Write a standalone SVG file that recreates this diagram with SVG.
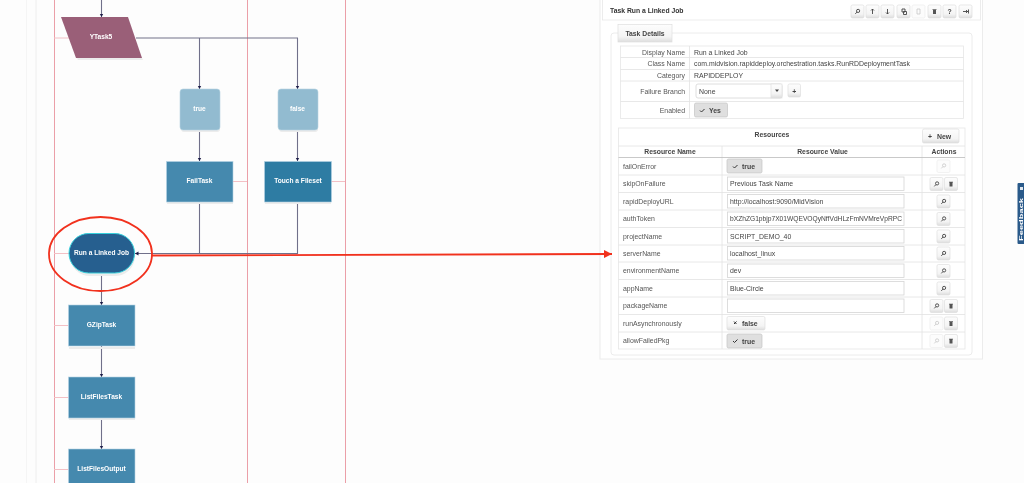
<svg xmlns="http://www.w3.org/2000/svg" width="1024" height="483" viewBox="0 0 1024 483">
<style>
text{font-family:"Liberation Sans",Arial,sans-serif}
.n{font-size:6.600px;font-weight:700;fill:#fff;text-anchor:middle}
.l{font-size:6.900px;fill:#555}
.r{font-size:6.900px;fill:#555;text-anchor:end}
.v{font-size:6.900px;fill:#444}
.b{font-size:6.900px;font-weight:700;fill:#444}
.h{font-size:6.800px;font-weight:700;fill:#444;text-anchor:middle}
.lane{stroke:#eb9fa8;stroke-width:1;fill:none}
.tick{stroke:#f3c0c5;stroke-width:1;fill:none}
.c{stroke:#70708a;stroke-width:1.100;fill:none;marker-end:url(#a)}
.c2{stroke:#70708a;stroke-width:1.100;fill:none}
.task{fill:#4589ae;stroke:#b5d3e4;stroke-width:.6}
.dec{fill:#92bbd0;stroke:#b9d5e2;stroke-width:.6}
.sh{fill:#ececec}
.btn{fill:url(#bg);stroke:#dedede;stroke-width:.7}
.dim{fill:#fcfcfc;stroke:#ececec;stroke-width:.7}
.on{fill:#dfdfdf;stroke:#c4c4c4;stroke-width:.7}
.in{fill:#fff;stroke:#d5d5d5;stroke-width:.8}
.ln{stroke:#e2e2e2;stroke-width:.8;fill:none}
.box{fill:#fff;stroke:#e6e6e6;stroke-width:.8}
.ic{fill:none;stroke:#444;stroke-width:.9}
.icd{fill:none;stroke:#c8c8c8;stroke-width:.8}
.red{fill:none;stroke:#f1301f}
</style>
<defs>
<linearGradient id="bg" x1="0" y1="0" x2="0" y2="1"><stop offset="0" stop-color="#fdfdfd"/><stop offset=".7" stop-color="#f4f4f4"/><stop offset="1" stop-color="#dddddd"/></linearGradient>
<marker id="a" markerUnits="userSpaceOnUse" markerWidth="5" markerHeight="5" refX="3.500" refY="2" orient="auto"><path d="M0 0L3.500 2L0 4z" fill="#1d1d4a"/></marker>
<marker id="ra" markerUnits="userSpaceOnUse" markerWidth="9" markerHeight="8" refX="8" refY="4" orient="auto"><path d="M0 0L8 4L0 8z" fill="#f1301f"/></marker>
<path id="mag" d="M-1 -.6a1.600 1.600 0 1 0 3.200 0a1.600 1.600 0 1 0 -3.200 0M-.6 .6L-2.200 2.400"/>
<path id="trash" d="M-1.500 -1.500h3v4h-3zM-2 -2.300h4v.7h-4z" fill="#555"/>
<filter id="soft" x="0" y="0" width="100%" height="100%"><feGaussianBlur stdDeviation=".3"/></filter>
</defs>
<rect width="1024" height="483" fill="#fdfdfd"/>
<g filter="url(#soft)">
<g id="lanes">
<path d="M26 0V483M36 0V483" stroke="#eeeeee" stroke-width="1" fill="none"/>
<path class="lane" d="M54.500 0V483M247.500 0V483M345.500 0V483"/>
<path class="tick" d="M54 38H70M233 181.500H247M331 181.500H345M54 253.500H69M54 325.500H68M54 397.500H68M54 469.500H68"/>
</g>

<g id="connectors">
<path class="c" d="M101.500 0V17"/>
<path class="c2" d="M136 38H298"/>
<path class="c" d="M199.500 38V89"/>
<path class="c" d="M297.500 38V89"/>
<path class="c" d="M199.500 130V161"/>
<path class="c" d="M297.500 130V161"/>
<path class="c2" d="M199.500 202V253.500"/>
<path class="c" d="M297.500 202V253.500H135"/>
<path class="c" d="M101.500 273V305"/>
<path class="c" d="M101.500 346V377"/>
<path class="c" d="M101.500 418V449"/>
</g>

<g id="yTask5"><path class="sh" d="M77 58H142L143 60H78z"/><path d="M61 17H128L142 58H76z" fill="#9a5f78"/><text class="n" x="101" y="39">YTask5</text></g>
<g id="true"><rect class="sh" x="181" y="91" width="39" height="41" rx="3"/><rect class="dec" x="180" y="89" width="40" height="41" rx="3"/><text class="n" x="199.500" y="111">true</text></g>
<g id="false"><rect class="sh" x="279" y="91" width="39" height="41" rx="3"/><rect class="dec" x="278" y="89" width="40" height="41" rx="3"/><text class="n" x="297.500" y="111">false</text></g>
<g id="failTask"><rect class="sh" x="167" y="163" width="66" height="41"/><rect class="task" x="166.500" y="161.500" width="66.500" height="40.500"/><text class="n" x="199.500" y="183">FailTask</text></g>
<g id="touchFileset"><rect class="sh" x="265" y="163" width="66" height="41"/><rect x="264.500" y="161.500" width="67" height="40.500" fill="#2d7ba3" stroke="#b5d3e4" stroke-width=".6"/><text class="n" x="298" y="183">Touch a Fileset</text></g>
<g id="runLinkedJob"><rect class="sh" x="70" y="236" width="65" height="40" rx="20"/><rect x="69" y="233.500" width="65.500" height="39.500" rx="19.700" fill="#265f8f" stroke="#35d0dc" stroke-width="1"/><text class="n" x="101.500" y="255">Run a Linked Job</text></g>
<g id="gzipTask"><rect class="sh" x="69" y="347" width="66" height="2"/><rect class="task" x="68.500" y="305" width="66.500" height="41"/><text class="n" x="101.500" y="327">GZipTask</text></g>
<g id="listFilesTask"><rect class="sh" x="69" y="418" width="66" height="2"/><rect class="task" x="68.500" y="377" width="66.500" height="41"/><text class="n" x="101.500" y="399">ListFilesTask</text></g>
<g id="listFilesOutput"><rect class="task" x="68.500" y="449" width="66.500" height="36"/><text class="n" x="101.500" y="471">ListFilesOutput</text></g>

<g id="panel">
<rect x="600" y="-2" width="382.500" height="361" fill="#fff" stroke="#ececec"/>
<rect x="602.500" y="-2" width="378" height="22" fill="#fff" stroke="#e8e8e8" stroke-width=".8"/>
<text x="610" y="12.500" style="font-size:6.800px;font-weight:700;fill:#333">Task Run a Linked Job</text>
<g id="toolbar">
<rect class="btn" x="851" y="5" width="13" height="13" rx="1.500"/><rect class="btn" x="866" y="5" width="13" height="13" rx="1.500"/><rect class="btn" x="881" y="5" width="13" height="13" rx="1.500"/><rect class="btn" x="897" y="5" width="13" height="13" rx="1.500"/><rect class="dim" x="912" y="5" width="13" height="13" rx="1.500"/><rect class="btn" x="928" y="5" width="13" height="13" rx="1.500"/><rect class="btn" x="943" y="5" width="13" height="13" rx="1.500"/><rect class="btn" x="959" y="5" width="13" height="13" rx="1.500"/>
<use href="#mag" class="ic" x="857.500" y="11.500"/>
<path class="ic" d="M872.500 14V9M871 10.500l1.500-1.500 1.500 1.500M887.500 9V14M886 12.500l1.500 1.500 1.500-1.500"/>
<path class="ic" d="M902 9h3v3h-3zM903.500 11.500h3v3h-3z"/>
<path class="icd" d="M917 9h3v5h-3z"/>
<use href="#trash" x="934.500" y="11.500"/>
<text class="b" x="949.500" y="14" text-anchor="middle">?</text>
<path class="ic" d="M963 11.500h5M966 10l1.500 1.500-1.500 1.500M968.500 9.500v4"/>
</g>
<rect x="611" y="33" width="361" height="322" rx="3" fill="#fff" stroke="#ececec"/>
<rect class="btn" x="618" y="24.500" width="54" height="17.500"/>
<text class="h" x="645" y="35.500">Task Details</text>

<g id="details">
<rect class="box" x="620.500" y="46" width="343" height="72.500"/>
<path class="ln" d="M620.500 57.500H963.500M620.500 69.500H963.500M620.500 81H963.500M620.500 101.500H963.500M689.500 46V118.500"/>
<text class="r" x="685" y="54.500">Display Name</text><text class="v" x="694" y="54.500">Run a Linked Job</text>
<text class="r" x="685" y="66">Class Name</text><text class="v" x="694" y="66">com.midvision.rapiddeploy.orchestration.tasks.RunRDDeploymentTask</text>
<text class="r" x="685" y="78">Category</text><text class="v" x="694" y="78">RAPIDDEPLOY</text>
<text class="r" x="685" y="94">Failure Branch</text>
<rect class="in" x="696" y="84" width="86" height="14" rx="2"/><rect class="btn" x="771" y="84" width="11" height="14"/><text class="v" x="699" y="93.700">None</text><path d="M775 89.500h4l-2 2.500z" fill="#444"/>
<rect class="btn" x="788" y="84" width="12.500" height="13" rx="1.500"/><text class="b" x="794.300" y="93.500" text-anchor="middle">+</text>
<text class="r" x="685" y="112.500">Enabled</text>
<rect class="on" x="694.500" y="103" width="33" height="14" rx="1.500"/><text class="b" x="709" y="112.500">Yes</text><path d="M700 110.500l1.500 1.500 3-3" stroke="#333" fill="none"/>
</g>

<g id="resources">
<rect class="box" x="618.500" y="128" width="346.500" height="221"/>
<path class="ln" d="M618.500 146H965M618.500 175H965M618.500 192.500H965M618.500 210H965M618.500 227.500H965M618.500 245H965M618.500 262H965M618.500 279.500H965M618.500 297H965M618.500 314.500H965M618.500 332H965M722 146V349M922 146V349"/>
<path d="M618.500 157.500H965" stroke="#bbb" stroke-width=".8"/>
<text class="h" x="772" y="136.500">Resources</text>
<rect class="btn" x="922.500" y="129" width="36.500" height="14" rx="1.500"/><text class="b" x="928" y="139">+</text><text class="b" x="937" y="138.500">New</text>
<text class="h" x="670" y="154">Resource Name</text><text class="h" x="822.500" y="154">Resource Value</text><text class="h" x="944" y="154">Actions</text>

<text class="l" x="623" y="168.500">failOnError</text>
<text class="l" x="623" y="186">skipOnFailure</text>
<text class="l" x="623" y="203.500">rapidDeployURL</text>
<text class="l" x="623" y="221">authToken</text>
<text class="l" x="623" y="238.500">projectName</text>
<text class="l" x="623" y="255.500">serverName</text>
<text class="l" x="623" y="273">environmentName</text>
<text class="l" x="623" y="290.500">appName</text>
<text class="l" x="623" y="308">packageName</text>
<text class="l" x="623" y="325.500">runAsynchronously</text>
<text class="l" x="623" y="343">allowFailedPkg</text>

<rect class="on" x="727" y="159" width="35" height="14" rx="1.500"/><path d="M733 166.500l1.500 1.500 3-3" stroke="#333" fill="none"/><text class="b" x="742" y="168.500">true</text>
<rect class="in" x="727.500" y="177" width="176.500" height="13.500"/><text class="v" x="730" y="186">Previous Task Name</text>
<rect class="in" x="727.500" y="194.500" width="176.500" height="13.500"/><text class="v" x="730" y="203.500">http://localhost:9090/MidVision</text>
<rect class="in" x="727.500" y="212" width="176.500" height="13.500"/><text class="v" x="730" y="221" textLength="172" lengthAdjust="spacingAndGlyphs">bXZhZG1pbjp7X01WQEVOQyNffVdHLzFmNVMreVpRPC</text>
<rect class="in" x="727.500" y="229.500" width="176.500" height="13.500"/><text class="v" x="730" y="238.500">SCRIPT_DEMO_40</text>
<rect class="in" x="727.500" y="246.500" width="176.500" height="13.500"/><text class="v" x="730" y="255.500">localhost_linux</text>
<rect class="in" x="727.500" y="264" width="176.500" height="13.500"/><text class="v" x="730" y="273">dev</text>
<rect class="in" x="727.500" y="281.500" width="176.500" height="13.500"/><text class="v" x="730" y="290.500">Blue-Circle</text>
<rect class="in" x="727.500" y="299" width="176.500" height="13.500"/>
<rect class="btn" x="727" y="316.500" width="38" height="13.500" rx="1.500"/><path d="M734 321.500l2.500 2.500M736.500 321.500l-2.500 2.500" stroke="#333" fill="none"/><text class="b" x="742" y="325.500">false</text>
<rect class="on" x="727" y="334" width="35" height="14" rx="1.500"/><path d="M733 341l1.500 1.500 3-3" stroke="#333" fill="none"/><text class="b" x="742" y="343.500">true</text>

<g id="actions">
<rect class="dim" x="937" y="160" width="13" height="12.500" rx="1.500"/><use href="#mag" class="icd" x="943.500" y="166"/>
<rect class="btn" x="930" y="177.500" width="13" height="13" rx="1.500"/><use href="#mag" class="ic" x="936.500" y="184"/><rect class="btn" x="944.500" y="177.500" width="13" height="13" rx="1.500"/><use href="#trash" x="951" y="184"/>
<rect class="btn" x="937" y="195" width="13" height="13" rx="1.500"/><use href="#mag" class="ic" x="943.500" y="201.500"/>
<rect class="btn" x="937" y="212.500" width="13" height="13" rx="1.500"/><use href="#mag" class="ic" x="943.500" y="219"/>
<rect class="btn" x="937" y="230" width="13" height="13" rx="1.500"/><use href="#mag" class="ic" x="943.500" y="236.500"/>
<rect class="btn" x="937" y="247" width="13" height="13" rx="1.500"/><use href="#mag" class="ic" x="943.500" y="253.500"/>
<rect class="btn" x="937" y="264.500" width="13" height="13" rx="1.500"/><use href="#mag" class="ic" x="943.500" y="271"/>
<rect class="btn" x="937" y="282" width="13" height="13" rx="1.500"/><use href="#mag" class="ic" x="943.500" y="288.500"/>
<rect class="btn" x="930" y="299.500" width="13" height="13" rx="1.500"/><use href="#mag" class="ic" x="936.500" y="306"/><rect class="btn" x="944.500" y="299.500" width="13" height="13" rx="1.500"/><use href="#trash" x="951" y="306"/>
<rect class="dim" x="930" y="317" width="13" height="13" rx="1.500"/><use href="#mag" class="icd" x="936.500" y="323.500"/><rect class="btn" x="944.500" y="317" width="13" height="13" rx="1.500"/><use href="#trash" x="951" y="323.500"/>
<rect class="dim" x="930" y="334.500" width="13" height="13" rx="1.500"/><use href="#mag" class="icd" x="936.500" y="341"/><rect class="btn" x="944.500" y="334.500" width="13" height="13" rx="1.500"/><use href="#trash" x="951" y="341"/>
</g>
</g>
</g>

<g id="feedback"><rect x="1017.500" y="183" width="8" height="61" rx="1" fill="#2c5a8a"/><rect x="1020" y="187" width="3" height="3" fill="#dfe7ef"/><text transform="translate(1023 241) rotate(-90)" textLength="43" lengthAdjust="spacingAndGlyphs" style="font-size:5.500px;font-weight:700;fill:#fff">Feedback</text></g>

<g id="annotation">
<ellipse class="red" cx="100.500" cy="254" rx="51.500" ry="37" stroke-width="1.800"/>
<path class="red" d="M151 255.500L612 254" stroke-width="1.800" marker-end="url(#ra)"/>
</g>
</g>
</svg>
